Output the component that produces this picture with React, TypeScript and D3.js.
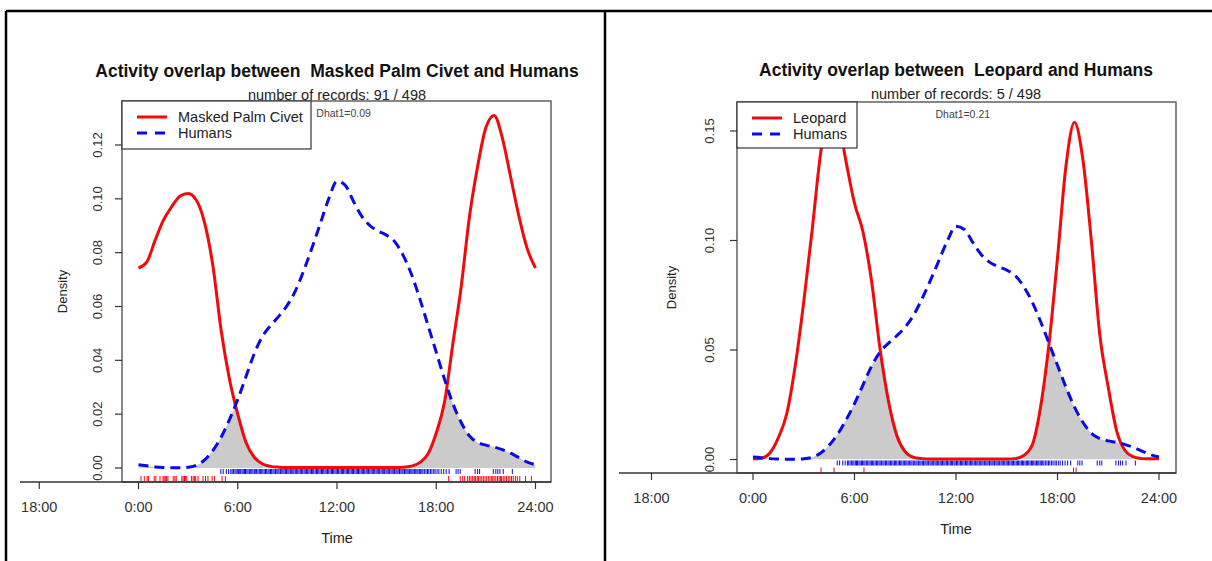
import React from 'react';
import * as d3 from 'd3';

const hours = [0, 0.5, 1, 1.5, 2, 2.5, 3, 3.5, 4, 4.5, 5, 5.5, 6, 6.5, 7, 7.5, 8, 8.5, 9, 9.5, 10, 10.5, 11, 11.5,
    12, 12.5, 13, 13.5, 14, 14.5, 15, 15.5, 16, 16.5, 17, 17.5, 18, 18.5, 19, 19.5, 20, 20.5, 21, 21.5, 22, 22.5,
    23, 23.5, 24];

const humansDensity = [0.0012, 0.0008, 0.0004, 0.0002, 0.0001, 0.0001, 0.0003, 0.0010, 0.0030, 0.0065, 0.0115,
    0.0180, 0.0255, 0.0340, 0.0425, 0.0490, 0.0530, 0.0565, 0.0605, 0.0660, 0.0735, 0.0820, 0.0910, 0.1000,
    0.1065, 0.1050, 0.0990, 0.0935, 0.0900, 0.0880, 0.0865, 0.0840, 0.0790, 0.0720, 0.0630, 0.0530, 0.0430,
    0.0330, 0.0240, 0.0170, 0.0120, 0.0095, 0.0085, 0.0078, 0.0068, 0.0055, 0.0038, 0.0022, 0.0012];

const civetDensity = [0.0743, 0.0765, 0.0845, 0.0920, 0.0970, 0.1010, 0.1020, 0.0995, 0.0910, 0.0750, 0.0510,
    0.0330, 0.0200, 0.0095, 0.0040, 0.0015, 0.0006, 0.0003, 0.0002, 0.0002, 0.0002, 0.0002, 0.0002, 0.0002,
    0.0002, 0.0002, 0.0002, 0.0002, 0.0002, 0.0002, 0.0002, 0.0002, 0.0003, 0.0007, 0.0020, 0.0052, 0.0130,
    0.0245, 0.0460, 0.0670, 0.0930, 0.1120, 0.1265, 0.1310, 0.1225, 0.1080, 0.0935, 0.0815, 0.0743];

const leopardDensity = [0.0003, 0.0006, 0.0030, 0.0100, 0.0210, 0.0430, 0.0720, 0.1050, 0.1400, 0.1600, 0.1560,
    0.1360, 0.1170, 0.1040, 0.0820, 0.0510, 0.0270, 0.0110, 0.0035, 0.0010, 0.0004, 0.0002, 0.0002, 0.0002,
    0.0002, 0.0002, 0.0002, 0.0002, 0.0002, 0.0002, 0.0002, 0.0004, 0.0018, 0.0065, 0.0240, 0.0530, 0.0920,
    0.1340, 0.1540, 0.1370, 0.1000, 0.0570, 0.0330, 0.0130, 0.0040, 0.0012, 0.0004, 0.0003, 0.0003];

// record times for the rugs (hours)
const humanTimes = [4.98, 5.12, 5.31, 5.45, 5.58, 5.66, 5.74, 5.83, 5.9, 5.97, 6.05, 6.12, 6.18, 6.26,
    6.33, 6.41, 6.47, 6.55, 6.62, 6.7, 6.76, 6.85, 6.92, 7.0, 7.06, 7.14, 7.22, 7.3, 7.37, 7.45, 7.52, 7.6, 7.68,
    7.75, 7.83, 7.9, 7.98, 8.05, 8.13, 8.2, 8.28, 8.36, 8.43, 8.5, 8.58, 8.66, 8.73, 8.8, 8.88, 8.95, 9.03, 9.1,
    9.18, 9.26, 9.33, 9.4, 9.48, 9.56, 9.63, 9.7, 9.78, 9.86, 9.93, 10.01, 10.08, 10.16, 10.23, 10.3, 10.38,
    10.46, 10.53, 10.6, 10.68, 10.76, 10.83, 10.9, 10.98, 11.06, 11.13, 11.2, 11.28, 11.35, 11.43, 11.5, 11.58,
    11.66, 11.73, 11.8, 11.88, 11.95, 12.03, 12.1, 12.18, 12.26, 12.33, 12.4, 12.48, 12.56, 12.63, 12.7, 12.78,
    12.86, 12.93, 13.0, 13.08, 13.16, 13.23, 13.3, 13.38, 13.46, 13.53, 13.6, 13.68, 13.76, 13.83, 13.9, 13.98,
    14.06, 14.13, 14.2, 14.28, 14.36, 14.43, 14.5, 14.58, 14.66, 14.73, 14.8, 14.88, 14.96, 15.03, 15.1, 15.18,
    15.26, 15.33, 15.4, 15.48, 15.56, 15.63, 15.7, 15.78, 15.86, 15.93, 16.0, 16.08, 16.16, 16.23, 16.3, 16.38,
    16.46, 16.53, 16.6, 16.68, 16.76, 16.83, 16.9, 16.98, 17.06, 17.13, 17.2, 17.3, 17.38, 17.47, 17.55, 17.65,
    17.74, 17.85, 17.93, 18.05, 18.16, 18.3, 18.45, 18.6, 18.78, 19.2, 19.32, 19.45, 20.35, 20.5, 20.62, 21.45,
    21.6, 21.72, 21.85, 22.05, 22.6];

const civetTimes = [0.15, 0.35, 0.52, 0.6, 0.95, 1.05, 1.3, 1.48, 1.55, 1.62, 1.7, 1.78, 2.1, 2.2, 2.28, 2.62,
    2.7, 2.78, 2.85, 2.92, 3.2, 3.3, 3.38, 3.46, 3.6, 3.9, 4.05, 4.2, 4.45, 4.6, 5.05, 5.25, 18.75, 19.45, 19.6,
    19.72, 19.9, 20.0, 20.1, 20.2, 20.3, 20.38, 20.48, 20.56, 20.65, 20.75, 20.85, 20.95, 21.05, 21.15, 21.25,
    21.35, 21.42, 21.5, 21.6, 21.7, 21.8, 21.88, 21.95, 22.05, 22.15, 22.25, 22.35, 22.45, 22.55, 22.65, 22.78,
    22.9, 23.05, 23.4, 23.75];

const leopardTimes = [4.02, 4.79, 6.56, 18.95, 19.1];

const xTickHours = [-6, 0, 6, 12, 18, 24];
const xTickLabels = ['18:00', '0:00', '6:00', '12:00', '18:00', '24:00'];
const civetYTicks = [0, 0.02, 0.04, 0.06, 0.08, 0.1, 0.12];
const leopardYTicks = [0, 0.05, 0.1, 0.15];

const FONT = '"Liberation Sans", Arial, Helvetica, sans-serif';
const RED = '#f00a0a';
const BLUE = '#0a0ae6';

interface Layout {
    x0: number; x24: number;
    yZero: number; yTop: number; yMax: number;
    boxL: number; boxR: number; boxT: number; boxB: number;
    axisStart: number;
    legendR: number; legendB: number;
    yLabelX: number; densityX: number;
    titleY: number; centerX: number;
    rugGap: number;
}

interface PanelProps {
    id: string;
    species: string;
    density: number[];
    times: number[];
    subtitle: string;
    dhat: string;
    yTicks: number[];
    L: Layout;
}

function Panel({ id, species, density, times, subtitle, dhat, yTicks, L }: PanelProps) {
    const x = d3.scaleLinear().domain([0, 24]).range([L.x0, L.x24]);
    const y = d3.scaleLinear().domain([0, L.yMax]).range([L.yZero, L.yTop]);

    const toPts = (vals: number[]) => hours.map((h, i) => [h, vals[i]] as [number, number]);
    const line = d3.line<[number, number]>()
        .x(d => x(d[0]))
        .y(d => y(d[1]))
        .curve(d3.curveMonotoneX);
    const area = d3.area<[number, number]>()
        .x(d => x(d[0]))
        .y0(y(0))
        .y1(d => y(d[1]))
        .curve(d3.curveMonotoneX);

    const speciesPts = toPts(density);
    const humanPts = toPts(humansDensity);
    const fmt = d3.format('.2f');

    return (
        <g fontFamily={FONT}>
            <defs>
                <clipPath id={'clip-' + id}>
                    <path d={area(humanPts) || ''} />
                </clipPath>
            </defs>

            <text x={L.centerX} y={L.titleY} textAnchor="middle" dominantBaseline="central"
                fontSize={17.5} fontWeight="bold" fill="#111" style={{ whiteSpace: 'pre' }}>
                {'Activity overlap between  ' + species + ' and Humans'}
            </text>
            <text x={L.centerX} y={L.titleY + 24} textAnchor="middle" dominantBaseline="central"
                fontSize={14.5} fill="#222">
                {subtitle}
            </text>

            {/* overlap = area under species curve clipped to area under humans curve */}
            <path d={area(speciesPts) || ''} fill="#cbcbcb" clipPath={'url(#clip-' + id + ')'} />

            {/* rugs */}
            {humanTimes.map((t, i) => (
                <line key={'h' + i} x1={x(t)} x2={x(t)} y1={L.yZero + 1} y2={L.yZero + 6}
                    stroke={BLUE} strokeWidth={1} />
            ))}
            {times.map((t, i) => (
                <line key={'s' + i} x1={x(t)} x2={x(t)} y1={L.yZero + L.rugGap} y2={L.yZero + L.rugGap + 5}
                    stroke={RED} strokeWidth={1} />
            ))}

            <path d={line(speciesPts) || ''} fill="none" stroke={RED} strokeWidth={3} />
            <path d={line(humanPts) || ''} fill="none" stroke={BLUE} strokeWidth={3} strokeDasharray="10 6" />

            {/* plot box */}
            <rect x={L.boxL} y={L.boxT} width={L.boxR - L.boxL} height={L.boxB - L.boxT}
                fill="none" stroke="#555" strokeWidth={1.4} />

            {/* x axis */}
            <line x1={L.axisStart} x2={L.boxR} y1={L.boxB} y2={L.boxB} stroke="#333" strokeWidth={1.4} />
            {xTickHours.map((h, i) => (
                <g key={'xt' + i}>
                    <line x1={x(h)} x2={x(h)} y1={L.boxB} y2={L.boxB + 7} stroke="#333" strokeWidth={1.2} />
                    <text x={x(h)} y={L.boxB + 25} textAnchor="middle" dominantBaseline="central"
                        fontSize={14.5} fill="#333">{xTickLabels[i]}</text>
                </g>
            ))}
            <text x={x(12)} y={L.boxB + 56} textAnchor="middle" dominantBaseline="central"
                fontSize={14.5} fill="#222">Time</text>

            {/* y axis */}
            {yTicks.map((t, i) => (
                <g key={'yt' + i}>
                    <line x1={L.boxL - 7} x2={L.boxL} y1={y(t)} y2={y(t)} stroke="#333" strokeWidth={1.2} />
                    <text transform={'translate(' + L.yLabelX + ',' + y(t) + ') rotate(-90)'}
                        textAnchor="middle" dominantBaseline="central" fontSize={13} fill="#333">
                        {fmt(t)}
                    </text>
                </g>
            ))}
            <text transform={'translate(' + L.densityX + ',' + (L.boxT + L.boxB) / 2 + ') rotate(-90)'}
                textAnchor="middle" dominantBaseline="central" fontSize={13} fill="#222">Density</text>

            <text x={x(12.4)} y={L.boxT + 12} textAnchor="middle" dominantBaseline="central"
                fontSize={10.5} fill="#444">{dhat}</text>

            {/* legend */}
            <rect x={L.boxL} y={L.boxT} width={L.legendR - L.boxL} height={L.legendB - L.boxT}
                fill="#fff" stroke="#333" strokeWidth={1.2} />
            <line x1={L.boxL + 15} x2={L.boxL + 45} y1={L.boxT + 16} y2={L.boxT + 16}
                stroke={RED} strokeWidth={3} />
            <line x1={L.boxL + 15} x2={L.boxL + 45} y1={L.boxT + 32} y2={L.boxT + 32}
                stroke={BLUE} strokeWidth={3} strokeDasharray="10 8" />
            <text x={L.boxL + 56} y={L.boxT + 16} dominantBaseline="central" fontSize={14.5} fill="#222">
                {species}
            </text>
            <text x={L.boxL + 56} y={L.boxT + 32} dominantBaseline="central" fontSize={14.5} fill="#222">
                Humans
            </text>
        </g>
    );
}

const leftLayout: Layout = {
    x0: 138.5, x24: 535.5, yZero: 468, yTop: 145, yMax: 0.12,
    boxL: 122, boxR: 551, boxT: 101, boxB: 482, axisStart: 20,
    legendR: 311, legendB: 149, yLabelX: 97, densityX: 62,
    titleY: 71, centerX: 337, rugGap: 8
};

const rightLayout: Layout = {
    x0: 753, x24: 1159, yZero: 459.5, yTop: 131, yMax: 0.15,
    boxL: 737, boxR: 1176, boxT: 102, boxB: 473, axisStart: 619,
    legendR: 857, legendB: 148, yLabelX: 709, densityX: 671,
    titleY: 70, centerX: 956, rugGap: 8
};

export default function App() {
    return (
        <svg width={1212} height={561} style={{ position: 'absolute', left: 0, top: 0, background: '#fff' }}>
            <rect x={0} y={0} width={1212} height={561} fill="#fff" />
            <Panel id="civet" species="Masked Palm Civet" density={civetDensity} times={civetTimes}
                subtitle="number of records: 91 / 498" dhat="Dhat1=0.09" yTicks={civetYTicks} L={leftLayout} />
            <Panel id="leopard" species="Leopard" density={leopardDensity} times={leopardTimes}
                subtitle="number of records: 5 / 498" dhat="Dhat1=0.21" yTicks={leopardYTicks} L={rightLayout} />
            {/* outer frame */}
            <line x1={6} x2={1212} y1={11} y2={11} stroke="#000" strokeWidth={2.5} />
            <line x1={6} x2={6} y1={11} y2={561} stroke="#000" strokeWidth={2.5} />
            <line x1={605} x2={605} y1={11} y2={561} stroke="#000" strokeWidth={2.5} />
        </svg>
    );
}
